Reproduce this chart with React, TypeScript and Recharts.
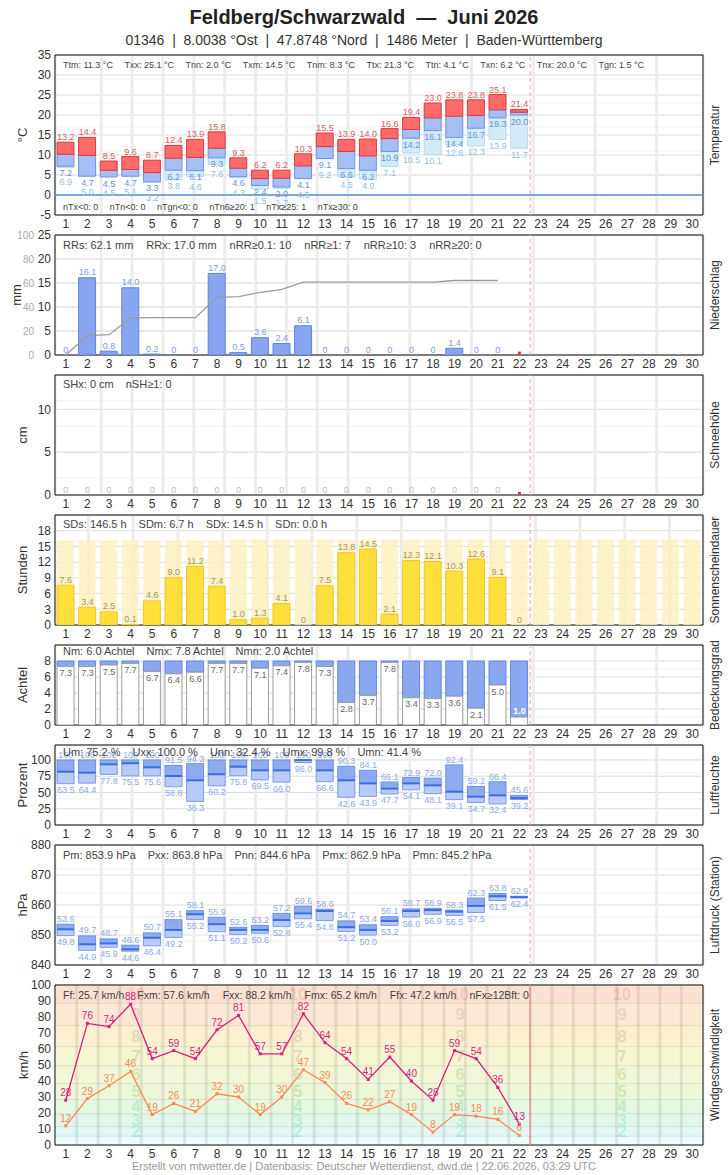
import React from 'react';
import {
  ComposedChart,
  Bar,
  Line,
  XAxis,
  YAxis,
  CartesianGrid,
  ReferenceLine,
  ReferenceArea,
  LabelList,
} from 'recharts';

const FONT = '"Liberation Sans", Arial, Helvetica, sans-serif';
const BAR = 17;

// x axis: days of the month
const DAYS = [1, 2, 3, 4, 5, 6, 7, 8, 9, 10, 11, 12, 13, 14, 15, 16, 17, 18, 19, 20, 21, 22, 23, 24, 25, 26, 27, 28, 29, 30];
const DAY_EDGES = [1.5, 2.5, 3.5, 4.5, 5.5, 6.5, 7.5, 8.5, 9.5, 10.5, 11.5, 12.5, 13.5, 14.5, 15.5, 16.5, 17.5, 18.5, 19.5, 20.5, 21.5, 22.5, 23.5, 24.5, 25.5, 26.5, 27.5, 28.5, 29.5];

// Temperatur (°C)
const T_MAX = [13.2, 14.4, 8.5, 9.6, 8.7, 12.4, 13.9, 15.8, 9.3, 6.2, 6.2, 10.3, 15.5, 13.9, 14.0, 16.6, 19.4, 23.0, 23.8, 23.8, 25.1, 21.4];
const T_MEAN = [10.2, 9.9, 6.2, 6.4, 5.6, 9.2, 9.4, 11.7, 6.7, 4.1, 4.2, 7.3, 12.1, 10.9, 9.8, 14.1, 16.4, 19.3, 19.7, 19.9, 21.3, 20.7];
const T_MIN = [7.2, 4.7, 4.5, 4.7, 3.3, 6.2, 6.1, 9.3, 4.6, 2.4, 2.0, 4.1, 9.1, 6.6, 6.2, 10.9, 14.2, 16.1, 14.4, 16.7, 19.3, 20.0];
const T_GROUND = [6.9, 5.0, 4.5, 5.1, 3.2, 3.8, 4.6, 7.6, 4.3, 1.5, 1.7, 4.5, 9.2, 4.5, 4.0, 7.1, 10.5, 10.1, 12.6, 12.3, 13.9, 11.7];

// Niederschlag (mm) and running monthly total
const PRECIP = [0, 16.1, 0.8, 14.0, 0.2, 0, 0, 17.0, 0.5, 3.6, 2.4, 6.1, 0, 0, 0, 0, 0, 0, 1.4, 0, 0];
const PRECIP_TOTAL = [0, 16.1, 16.9, 30.9, 31.1, 31.1, 31.1, 48.1, 48.6, 52.2, 54.6, 60.7, 60.7, 60.7, 60.7, 60.7, 60.7, 60.7, 62.1, 62.1, 62.1];

// Schneehöhe (cm)
const SNOW = [0, 0, 0, 0, 0, 0, 0, 0, 0, 0, 0, 0, 0, 0, 0, 0, 0, 0, 0, 0, 0];

// Sonnenscheindauer (h) and astronomically possible duration
const SUN = [7.6, 3.4, 2.5, 0.1, 4.6, 9.0, 11.2, 7.4, 1.0, 1.3, 4.1, 0, 7.5, 13.8, 14.5, 2.1, 12.3, 12.1, 10.3, 12.6, 9.1, 0];
const SUN_POSSIBLE = [16.1, 16.1, 16.1, 16.1, 16.1, 16.1, 16.1, 16.1, 16.3, 16.3, 16.3, 16.3, 16.3, 16.3, 16.3, 16.3, 16.3, 16.3, 16.3, 16.3, 16.3, 16.3, 16.3, 16.3, 16.3, 16.3, 16.3, 16.3, 16.3, 16.3];

// Bedeckungsgrad (Achtel)
const CLOUD = [7.3, 7.3, 7.5, 7.7, 6.7, 6.4, 6.6, 7.7, 7.7, 7.1, 7.4, 7.8, 7.3, 2.8, 3.7, 7.8, 3.4, 3.3, 3.6, 2.1, 5.0, 1.0];

// Luftfeuchte (%)
const HUM_MAX = [100, 100, 100, 100, 100, 91.5, 94.3, 100, 100, 100, 100, 100, 100, 90.3, 84.1, 66.1, 72.9, 72.0, 92.4, 59.2, 66.4, 45.6];
const HUM_MEAN = [82, 80.5, 93.3, 95, 88.7, 75.4, 68.7, 78, 89.7, 84, 84, 99.8, 84, 68.7, 64, 56, 64, 61, 51.3, 43.6, 45.6, 41.4];
const HUM_MIN = [63.5, 64.4, 77.8, 75.5, 75.6, 58.8, 36.3, 60.2, 75.8, 69.5, 66.0, 96.0, 66.6, 42.6, 43.9, 47.7, 54.1, 48.1, 39.1, 34.7, 32.4, 39.2];

// Luftdruck Station (hPa)
const PRES_MAX = [853.6, 849.7, 848.7, 846.6, 850.7, 855.1, 858.1, 855.9, 852.6, 853.2, 857.2, 859.6, 858.6, 854.7, 853.4, 856.1, 858.7, 858.9, 858.3, 862.3, 863.8, 862.9];
const PRES_MEAN = [851.9, 846.9, 847.2, 845.2, 849.1, 851.7, 856.9, 853.6, 851.7, 851.7, 855.0, 857.2, 858.0, 852.6, 851.7, 854.7, 858.0, 858.3, 857.8, 859.7, 862.9, 862.6];
const PRES_MIN = [849.8, 844.9, 845.9, 844.6, 846.4, 849.2, 855.2, 851.1, 850.2, 850.6, 852.8, 855.4, 854.8, 851.2, 850.0, 853.2, 856.0, 856.9, 856.5, 857.5, 861.5, 862.4];

// Wind (km/h): max gust and mean
const GUST = [28, 76, 74, 88, 54, 59, 54, 72, 81, 57, 57, 82, 64, 54, 41, 55, 40, 28, 59, 54, 36, 13];
const WIND = [12, 29, 37, 46, 19, 26, 21, 32, 30, 19, 30, 47, 39, 26, 22, 27, 19, 8, 19, 18, 16, 6];

// Beaufort bands: Bft 1 .. 10
const BFT_EDGES = [0, 5.5, 11.5, 19.5, 28.5, 38.5, 49.5, 61.5, 74.5, 88.5, 100];
const BFT_FILL = ['#ecfbfb', '#e3f8f4', '#e2f7ec', '#e7f8e2', '#edf8db', '#f2f8d7', '#f7f6d3', '#fbf1d1', '#fce9d4', '#fbe1d4'];
const BFT_TEXT = ['', '#bdf0e4', '#b9eed6', '#bfecc6', '#c9e8b6', '#d6e3b4', '#e0ddb5', '#e6d8b8', '#edd2bd', '#f1c9b9'];

// monthly statistics
const STATS_TEMP = ['Ttm: 11.3 °C', 'Txx: 25.1 °C', 'Tnn: 2.0 °C', 'Txm: 14.5 °C', 'Tnm: 8.3 °C', 'Ttx: 21.3 °C', 'Ttn: 4.1 °C', 'Txn: 6.2 °C', 'Tnx: 20.0 °C', 'Tgn: 1.5 °C'];
const STATS_TEMP_COUNT = ['nTx<0: 0', 'nTn<0: 0', 'nTgn<0: 0', 'nTn6≥20: 1', 'nTx≥25: 1', 'nTx≥30: 0'];
const STATS_PRECIP = ['RRs: 62.1 mm', 'RRx: 17.0 mm', 'nRR≥0.1: 10', 'nRR≥1: 7', 'nRR≥10: 3', 'nRR≥20: 0'];
const STATS_SNOW = ['SHx: 0 cm', 'nSH≥1: 0'];
const STATS_SUN = ['SDs: 146.5 h', 'SDm: 6.7 h', 'SDx: 14.5 h', 'SDn: 0.0 h'];
const STATS_CLOUD = ['Nm: 6.0 Achtel', 'Nmx: 7.8 Achtel', 'Nmn: 2.0 Achtel'];
const STATS_HUM = ['Um: 75.2 %', 'Uxx: 100.0 %', 'Unn: 32.4 %', 'Umx: 99.8 %', 'Umn: 41.4 %'];
const STATS_PRES = ['Pm: 853.9 hPa', 'Pxx: 863.8 hPa', 'Pnn: 844.6 hPa', 'Pmx: 862.9 hPa', 'Pmn: 845.2 hPa'];
const STATS_WIND = ['Ff: 25.7 km/h', 'Fxm: 57.6 km/h', 'Fxx: 88.2 km/h', 'Fmx: 65.2 km/h', 'Ffx: 47.2 km/h', 'nFx≥12Bft: 0'];

const TEMP_ROWS = T_MAX.map((tx, i) => ({
  day: i + 1,
  tx,
  tn: T_MIN[i],
  tg: T_GROUND[i],
  ground: [Math.min(T_GROUND[i], T_MIN[i]), Math.max(T_GROUND[i], T_MIN[i])],
  low: [T_MIN[i], T_MEAN[i]],
  high: [T_MEAN[i], tx],
}));
const PRECIP_ROWS = [
  ...PRECIP.map((rr, i) => ({ day: i + 1, rr, total: PRECIP_TOTAL[i] })),
  { day: 22, pending: 0.4 },
];
const SNOW_ROWS = [...SNOW.map((sh, i) => ({ day: i + 1, sh })), { day: 22, pending: 0.2 }];
const SUN_ROWS = SUN_POSSIBLE.map((p, i) => ({ day: i + 1, possible: p, sd: SUN[i] }));
const CLOUD_ROWS = CLOUD.map((n, i) => ({ day: i + 1, cloud: n, sky: [n, 8] }));
const HUM_ROWS = HUM_MAX.map((mx, i) => ({
  day: i + 1,
  max: mx,
  min: HUM_MIN[i],
  lo: [HUM_MIN[i], HUM_MEAN[i]],
  hi: [HUM_MEAN[i], mx],
}));
const PRES_ROWS = PRES_MAX.map((mx, i) => ({
  day: i + 1,
  max: mx,
  min: PRES_MIN[i],
  lo: [PRES_MIN[i], PRES_MEAN[i]],
  hi: [PRES_MEAN[i], mx],
}));
const WIND_ROWS = GUST.map((g, i) => ({ day: i + 1, gust: g, wind: WIND[i] }));

// plot area of the temperature panel: 160 px for 40 °C
const TEMP_PX_PER_DEG = 160 / 40;

const TICK = { fill: '#333', fontSize: 12, fontFamily: FONT };

const steps = (a: number, b: number, s: number) => {
  const out: number[] = [];
  for (let v = a; v <= b + 1e-9; v += s) out.push(Math.round(v * 100) / 100);
  return out;
};

const pos = (p: any) => {
  const v = p.viewBox || {};
  return { x: p.x ?? v.x, y: p.y ?? v.y };
};

const valueText = (
  x: number,
  y: number,
  s: string,
  fill: string,
  size = 9,
  weight: string = 'normal'
) => (
  <text x={x} y={y} textAnchor="middle" fontSize={size} fill={fill} fontFamily={FONT} fontWeight={weight}>
    {s}
  </text>
);

// invisible line that only carries value labels at each point
function labelLine(key: string, render: (x: number, y: number, v: number, i: number) => React.ReactNode, yAxisId: any = 0) {
  return (
    <Line
      key={`lbl-${key}`}
      yAxisId={yAxisId}
      dataKey={key}
      stroke="none"
      dot={false}
      activeDot={false}
      legendType="none"
      isAnimationActive={false}
    >
      <LabelList
        dataKey={key}
        content={(p: any) => {
          const { x, y } = pos(p);
          if (p.value == null || x == null || y == null || isNaN(y)) return null;
          return render(x, y, Number(p.value), p.index);
        }}
      />
    </Line>
  );
}

// common axes, grid and marker for today
function frame(domain: [number, number], ticks: number[], minorStep: number, yWidth = 55) {
  return [
    <XAxis
      key="x"
      type="number"
      dataKey="day"
      domain={[0.5, 30.5]}
      ticks={DAYS}
      interval={0}
      allowDataOverflow
      axisLine={false}
      tickLine={false}
      tickSize={0}
      tickMargin={4}
      height={20}
      tick={TICK}
    />,
    <XAxis key="xg" xAxisId="grid" type="number" domain={[0.5, 30.5]} ticks={DAY_EDGES} hide height={0} allowDataOverflow />,
    <YAxis
      key="y"
      yAxisId={0}
      width={yWidth}
      domain={domain}
      ticks={ticks}
      interval={0}
      allowDataOverflow
      axisLine={false}
      tickLine={false}
      tickSize={0}
      tickMargin={4}
      tick={TICK}
    />,
    <YAxis
      key="ym"
      yAxisId="minor"
      hide
      width={0}
      domain={domain}
      ticks={steps(domain[0], domain[1], minorStep)}
      allowDataOverflow
    />,
    <CartesianGrid key="gmin" yAxisId="minor" vertical={false} stroke="#f1f1f1" />,
    <CartesianGrid key="gmaj" vertical={false} stroke="#dcdcdc" />,
    <CartesianGrid key="gv" xAxisId="grid" horizontal={false} stroke="#ececec" strokeWidth={3} />,
    <ReferenceLine key="today" x={22.5} stroke="#f4a3a3" strokeDasharray="4 3" />,
  ];
}

const border = (lo: number, hi: number) => (
  <ReferenceArea key="border" x1={0.5} x2={30.5} y1={lo} y2={hi} fill="none" stroke="#111" strokeWidth={1} />
);

function Panel({ top, bottom, data, children }: { top: number; bottom: number; data: any[]; children: React.ReactNode }) {
  return (
    <div style={{ position: 'absolute', left: 0, top: top - 10 }}>
      <ComposedChart
        width={728}
        height={bottom - top + 30}
        data={data}
        margin={{ top: 10, right: 25, bottom: 0, left: 0 }}
        barGap={-BAR}
        barSize={BAR}
      >
        {children}
      </ComposedChart>
    </div>
  );
}

function Stats({ items, top, size = 11, gap = 12 }: { items: string[]; top: number; size?: number; gap?: number }) {
  return (
    <div
      style={{
        position: 'absolute',
        left: 63,
        top: top - size / 2,
        display: 'flex',
        gap,
        fontSize: size,
        lineHeight: 1,
        color: '#444',
        whiteSpace: 'nowrap',
      }}
    >
      {items.map((s) => (
        <span key={s}>{s}</span>
      ))}
    </div>
  );
}

function SideTitle({ text, x, y, size = 12 }: { text: string; x: number; y: number; size?: number }) {
  return (
    <div
      style={{
        position: 'absolute',
        left: x,
        top: y,
        transform: 'translate(-50%, -50%) rotate(-90deg)',
        fontSize: size,
        color: '#333',
        whiteSpace: 'nowrap',
        lineHeight: 1,
      }}
    >
      {text}
    </div>
  );
}

const pendingDot = (p: any) =>
  p.payload?.pending == null ? (
    <g key={`p${p.index}`} />
  ) : (
    <rect key={`p${p.index}`} x={p.cx - 1.5} y={p.cy - 1.5} width={3} height={3} fill="#e53935" />
  );

const squareDot = (color: string) => (p: any) =>
  <rect key={`d${p.index}`} x={p.cx - 1.5} y={p.cy - 1.5} width={3} height={3} fill={color} />;

// box with the daily mean drawn as a line along its lower edge
const MeanBox = (p: any) => {
  const { x, y, width, height, fill, stroke } = p;
  if (x == null || y == null || isNaN(y)) return <g />;
  return (
    <g>
      <rect x={x} y={y} width={width} height={Math.max(height, 0)} fill={fill} stroke={stroke} />
      <line x1={x} x2={x + width} y1={y + height} y2={y + height} stroke="#3c6ee0" strokeWidth={2} />
    </g>
  );
};

// Beaufort number repeated in four columns across the band
const bftLabel = (n: number, color: string) => (p: any) => {
  const v = p.viewBox;
  if (!v || !color) return <g />;
  const cy = v.y + v.height / 2 + 5.5;
  return (
    <g>
      {[0.125, 0.375, 0.625, 0.875].map((f) => (
        <text key={f} x={v.x + v.width * f} y={cy} textAnchor="middle" fontSize={16} fontWeight="bold" fill={color} fontFamily={FONT}>
          {n}
        </text>
      ))}
    </g>
  );
};

const fmt1 = (v: number) => (v === 0 ? '0' : v.toFixed(1));

export default function App() {
  return (
    <div
      style={{
        position: 'absolute',
        left: 0,
        top: 0,
        width: 728,
        height: 1175,
        background: '#fff',
        fontFamily: FONT,
        color: '#333',
        overflow: 'hidden',
      }}
    >
      <div style={{ position: 'absolute', top: 6, left: 0, width: 728, textAlign: 'center', fontSize: 20, fontWeight: 'bold', color: '#222' }}>
        Feldberg/Schwarzwald&nbsp; —&nbsp; Juni 2026
      </div>
      <div style={{ position: 'absolute', top: 32, left: 0, width: 728, textAlign: 'center', fontSize: 14, color: '#333' }}>
        01346&nbsp; |&nbsp; 8.0038 °Ost&nbsp; |&nbsp; 47.8748 °Nord&nbsp; |&nbsp; 1486 Meter&nbsp; |&nbsp; Baden-Württemberg
      </div>

      {/* Temperatur */}
      <Panel top={55} bottom={215} data={TEMP_ROWS}>
        {frame([-5, 35], steps(-5, 35, 5), 1)}
        <ReferenceLine y={0} stroke="#5b8ae0" strokeWidth={1.5} />
        <Bar dataKey="ground" fill="#d3eaf7" stroke="#b6dbef" isAnimationActive={false} />
        <Bar dataKey="low" fill="#a7bef4" stroke="#6f93e6" isAnimationActive={false} />
        <Bar dataKey="high" fill="#ff6b6b" stroke="#d43d3d" isAnimationActive={false} />
        {labelLine('tx', (x, y, v) => valueText(x, y - 2, v.toFixed(1), '#e25b5b'))}
        {labelLine('tn', (x, y, v) => valueText(x, y + 9.5, v.toFixed(1), '#6b90dc'))}
        {labelLine('tg', (x, y, v, i) => {
          const tnPix = y - (T_MIN[i] - v) * TEMP_PX_PER_DEG;
          const ly = Math.max(y + 9.5, tnPix + 19);
          return valueText(x, ly, v.toFixed(1), '#90c0e4');
        })}
        {border(-5, 35)}
      </Panel>
      <Stats items={STATS_TEMP} top={65} size={9} gap={11.5} />
      <Stats items={STATS_TEMP_COUNT} top={207.5} size={9} gap={11.5} />
      <SideTitle text="°C" x={22} y={135} size={13} />
      <SideTitle text="Temperatur" x={715} y={135} />

      {/* Niederschlag */}
      <Panel top={235} bottom={355} data={PRECIP_ROWS}>
        {frame([0, 25], steps(0, 25, 5), 1, 17)}
        <YAxis
          yAxisId="total"
          width={38}
          domain={[0, 100]}
          ticks={steps(0, 100, 20)}
          interval={0}
          axisLine={false}
          tickLine={false}
          tickSize={0}
          tickMargin={4}
          tick={{ fill: '#aaa', fontSize: 10, fontFamily: FONT }}
        />
        <Bar dataKey="rr" fill="#88a6f0" stroke="#5d82e6" isAnimationActive={false} />
        <Line yAxisId="total" dataKey="total" stroke="#9a9a9a" strokeWidth={1.3} dot={false} activeDot={false} isAnimationActive={false} />
        <Line dataKey="pending" stroke="none" dot={pendingDot} activeDot={false} isAnimationActive={false} />
        {labelLine('rr', (x, y, v) => valueText(x, y - 2.5, fmt1(v), '#7d9de9'))}
        {border(0, 25)}
      </Panel>
      <Stats items={STATS_PRECIP} top={245} size={11} gap={13} />
      <SideTitle text="mm" x={16} y={295} size={13} />
      <SideTitle text="Niederschlag" x={715} y={295} />

      {/* Schneehöhe */}
      <Panel top={375} bottom={495} data={SNOW_ROWS}>
        {frame([0, 14], [0, 5, 10], 1)}
        <Bar dataKey="sh" fill="#d0d0d0" isAnimationActive={false} />
        <Line dataKey="pending" stroke="none" dot={pendingDot} activeDot={false} isAnimationActive={false} />
        {labelLine('sh', (x, y, v) => valueText(x, y - 2.5, String(v), '#bdbdbd'))}
        {border(0, 14)}
      </Panel>
      <Stats items={STATS_SNOW} top={384.5} size={11} gap={12} />
      <SideTitle text="cm" x={22} y={435} size={13} />
      <SideTitle text="Schneehöhe" x={715} y={435} />

      {/* Sonnenscheindauer */}
      <Panel top={515} bottom={625} data={SUN_ROWS}>
        {frame([0, 21], steps(0, 18, 3), 1)}
        <Bar dataKey="possible" fill="#fdf0bd" fillOpacity={0.8} isAnimationActive={false} />
        <Bar dataKey="sd" fill="#ffdf3c" stroke="#f3c623" isAnimationActive={false} />
        {labelLine('sd', (x, y, v) => valueText(x, y - 2.5, fmt1(v), '#ad9650'))}
        {border(0, 21)}
      </Panel>
      <Stats items={STATS_SUN} top={524} size={11} gap={12} />
      <SideTitle text="Stunden" x={22} y={570} size={13} />
      <SideTitle text="Sonnenscheindauer" x={715} y={570} />

      {/* Bedeckungsgrad */}
      <Panel top={645} bottom={725} data={CLOUD_ROWS}>
        {frame([0, 10], steps(0, 8, 2), 1)}
        <Bar dataKey="sky" fill="#8aa8f0" stroke="#5f84e6" isAnimationActive={false} />
        <Bar dataKey="cloud" fill="#ffffff" stroke="#9c9c9c" isAnimationActive={false} />
        {labelLine('cloud', (x, y, v) =>
          v >= 1.5
            ? valueText(x, y + 9.5, v.toFixed(1), '#666')
            : valueText(x, y - 3, v.toFixed(1), '#ffffff', 9, 'bold')
        )}
        {border(0, 10)}
      </Panel>
      <Stats items={STATS_CLOUD} top={651} size={11} gap={12} />
      <SideTitle text="Achtel" x={22} y={685} size={13} />
      <SideTitle text="Bedeckungsgrad" x={715} y={685} />

      {/* Luftfeuchte */}
      <Panel top={745} bottom={825} data={HUM_ROWS}>
        {frame([0, 123], steps(0, 100, 25), 5)}
        <Bar dataKey="lo" fill="#b7cbf6" stroke="#7b9bec" isAnimationActive={false} />
        <Bar dataKey="hi" fill="#8eabf0" stroke="#6c8fe8" shape={MeanBox} isAnimationActive={false} />
        {labelLine('min', (x, y, v) => valueText(x, y + 9.5, v.toFixed(1), '#8ba9ec'))}
        {labelLine('max', (x, y, v) => valueText(x, y - 2, v >= 100 ? '100' : v.toFixed(1), '#8ba9ec'))}
        {border(0, 123)}
      </Panel>
      <Stats items={STATS_HUM} top={752.5} size={11} gap={12} />
      <SideTitle text="Prozent" x={22} y={785} size={13} />
      <SideTitle text="Luftfeuchte" x={715} y={785} />

      {/* Luftdruck */}
      <Panel top={845} bottom={965} data={PRES_ROWS}>
        {frame([840, 880], steps(840, 880, 10), 2)}
        <Bar dataKey="lo" fill="#b7cbf6" stroke="#7b9bec" isAnimationActive={false} />
        <Bar dataKey="hi" fill="#8eabf0" stroke="#6c8fe8" shape={MeanBox} isAnimationActive={false} />
        {labelLine('min', (x, y, v) => valueText(x, y + 9.5, (v - 800).toFixed(1), '#8ba9ec'))}
        {labelLine('max', (x, y, v) => valueText(x, y - 2.5, (v - 800).toFixed(1), '#8ba9ec'))}
        {border(840, 880)}
      </Panel>
      <Stats items={STATS_PRES} top={855} size={11} gap={12} />
      <SideTitle text="hPa" x={22} y={905} size={13} />
      <SideTitle text="Luftdruck (Station)" x={715} y={905} />

      {/* Windgeschwindigkeit */}
      <Panel top={985} bottom={1145} data={WIND_ROWS}>
        {frame([0, 100], steps(0, 100, 10), 100)}
        {BFT_FILL.map((c, k) => (
          <ReferenceArea
            key={`bft${k}`}
            x1={0.5}
            x2={30.5}
            y1={BFT_EDGES[k]}
            y2={BFT_EDGES[k + 1]}
            fill={c}
            fillOpacity={1}
            stroke="none"
            label={bftLabel(k + 1, BFT_TEXT[k])}
          />
        ))}
        {BFT_EDGES.slice(1, -1).map((e) => (
          <ReferenceLine key={`be${e}`} y={e} stroke="rgba(0,0,0,0.09)" />
        ))}
        {DAY_EDGES.map((e) => (
          <ReferenceLine key={`de${e}`} x={e} stroke="rgba(0,0,0,0.08)" strokeWidth={3} />
        ))}
        <ReferenceLine x={22.5} stroke="#eb9a9a" strokeWidth={1.5} />
        <Line dataKey="wind" stroke="#ff8a4f" strokeWidth={1.3} dot={squareDot('#ff8a4f')} activeDot={false} isAnimationActive={false}>
          <LabelList dataKey="wind" position="top" offset={4} fontSize={10} fill="#ff8a4f" fontFamily={FONT} />
        </Line>
        <Line dataKey="gust" stroke="#d81f7f" strokeWidth={1.3} dot={squareDot('#d81f7f')} activeDot={false} isAnimationActive={false}>
          <LabelList dataKey="gust" position="top" offset={4} fontSize={10} fill="#d81f7f" fontFamily={FONT} />
        </Line>
        {border(0, 100)}
      </Panel>
      <Stats items={STATS_WIND} top={995} size={10.5} gap={13} />
      <SideTitle text="km/h" x={23} y={1065} size={13} />
      <SideTitle text="Windgeschwindigkeit" x={715} y={1065} />

      <div style={{ position: 'absolute', top: 1161, left: 0, width: 728, textAlign: 'center', fontSize: 11, color: '#999', lineHeight: 1 }}>
        Erstellt von mtwetter.de | Datenbasis: Deutscher Wetterdienst, dwd.de | 22.06.2026, 03:29 UTC
      </div>
    </div>
  );
}
